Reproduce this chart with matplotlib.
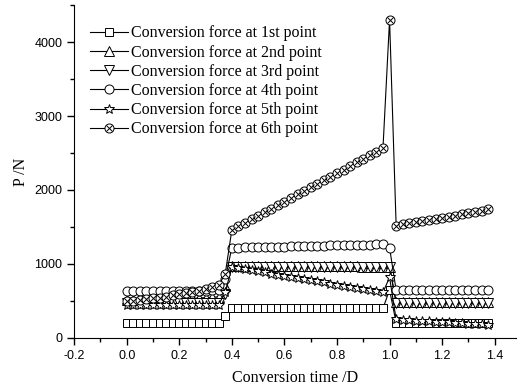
import numpy as np
import matplotlib
matplotlib.use('Agg')
import matplotlib.pyplot as plt
from matplotlib.ticker import MultipleLocator
from matplotlib.lines import Line2D

plt.rcParams['axes.unicode_minus'] = False

# conversion time (D): 0 .. 1.375, step 0.025
t = [0.0, 0.025, 0.05, 0.075, 0.1, 0.125, 0.15, 0.175, 0.2, 0.225, 0.25, 0.275, 0.3, 0.325, 0.35,
     0.375,
     0.4, 0.425, 0.45, 0.475, 0.5, 0.525, 0.55, 0.575, 0.6, 0.625, 0.65, 0.675, 0.7, 0.725, 0.75,
     0.775, 0.8, 0.825, 0.85, 0.875, 0.9, 0.925, 0.95, 0.975,
     1.0,
     1.025, 1.05, 1.075, 1.1, 1.125, 1.15, 1.175, 1.2, 1.225, 1.25, 1.275, 1.3, 1.325, 1.35, 1.375]

p1 = [200] * 15 + [290] + [400] * 24 + [650] + [205] * 15
p2 = [510, 512, 514, 516, 518, 520, 522, 525, 528, 531, 535, 540, 545, 550, 556] + [700] + \
     [975, 975, 974, 974, 973, 973, 972, 972, 971, 971, 970, 970, 969, 969, 968, 968, 967, 967,
      966, 966, 965, 965, 964, 964] + [965] + [490] * 15
p3 = [470] * 15 + [600] + [960] * 24 + [955] + [470] * 15
p4 = [630, 630, 631, 631, 632, 632, 633, 634, 635, 636, 637, 639, 641, 643, 645] + [800] + \
     [1220, 1222, 1224, 1226, 1228, 1230, 1232, 1234, 1236, 1238, 1240, 1242, 1244, 1246, 1248,
      1250, 1252, 1254, 1256, 1258, 1260, 1262, 1264, 1266] + [1220] + [645] * 15
p5 = [445, 445, 445, 445, 445, 445, 446, 446, 446, 447, 447, 448, 448, 449, 450] + [620] + \
     [960, 945, 930, 915, 900, 885, 870, 855, 840, 825, 810, 795, 780, 765, 750, 735, 720, 705,
      690, 675, 660, 645, 630, 615] + [820] + \
     [250, 245, 240, 235, 230, 225, 220, 215, 210, 205, 200, 195, 190, 185, 180]
p6 = [500, 505, 515, 525, 535, 545, 560, 575, 590, 605, 620, 640, 660, 685, 710] + [870] + \
     [1460, 1508, 1556, 1604, 1652, 1700, 1748, 1796, 1844, 1892, 1940, 1988, 2036, 2084, 2132,
      2180, 2228, 2276, 2324, 2372, 2420, 2468, 2516, 2570] + [4300] + \
     [1520, 1535, 1550, 1565, 1580, 1595, 1610, 1625, 1640, 1655, 1670, 1685, 1700, 1720, 1740]

labels = ['Conversion force at 1st point', 'Conversion force at 2nd point',
          'Conversion force at 3rd point', 'Conversion force at 4th point',
          'Conversion force at 5th point', 'Conversion force at 6th point']
markers = ['s', '^', 'v', 'o', '*', 'ox']
sizes = [6, 6.5, 6.5, 6.5, 7.5, 6.5]

fig = plt.figure(figsize=(5.22, 3.88), dpi=100)
ax = fig.add_axes([0.142, 0.129, 0.846, 0.858])

handles = []
for y, m, ms in zip([p1, p2, p3, p4, p5, p6], markers, sizes):
    if m == 'ox':
        ax.plot(t, y, color='black', lw=0.8, marker='o', ms=ms, mfc='white', mec='black', mew=0.7)
        ax.plot(t, y, lw=0, marker='x', ms=ms * 0.7, mec='black', mew=0.7)
        h = (Line2D([], [], color='black', lw=0.8, marker='o', ms=ms, mfc='white', mec='black', mew=0.7),
             Line2D([], [], lw=0, marker='x', ms=ms * 0.7, mec='black', mew=0.7))
    else:
        ax.plot(t, y, color='black', lw=0.8, marker=m, ms=ms, mfc='white', mec='black', mew=0.7)
        h = Line2D([], [], color='black', lw=0.8, marker=m, ms=ms, mfc='white', mec='black', mew=0.7)
    handles.append(h)

ax.set_xlim(-0.2, 1.48)
ax.set_ylim(0, 4500)
ax.xaxis.set_major_locator(MultipleLocator(0.2))
ax.xaxis.set_minor_locator(MultipleLocator(0.1))
ax.yaxis.set_major_locator(MultipleLocator(1000))
ax.yaxis.set_minor_locator(MultipleLocator(500))
ax.spines['top'].set_visible(False)
ax.spines['right'].set_visible(False)
ax.tick_params(which='major', direction='out', length=5, width=1, labelsize=9)
ax.tick_params(which='minor', direction='out', length=3, width=1)
for lbl in ax.get_xticklabels() + ax.get_yticklabels():
    lbl.set_family('Liberation Sans')

ax.set_xlabel('Conversion time /D', family='Liberation Serif', fontsize=11.5, labelpad=6)
ax.set_ylabel('P /N', family='Liberation Serif', fontsize=11.5)

ax.legend(handles, labels, loc='upper left', bbox_to_anchor=(0.021, 0.958), frameon=False,
          prop={'family': 'Liberation Serif', 'size': 11.5}, handlelength=2.4,
          handletextpad=0.2, labelspacing=0.2, borderaxespad=0)

fig.savefig('out.png', dpi=100)
